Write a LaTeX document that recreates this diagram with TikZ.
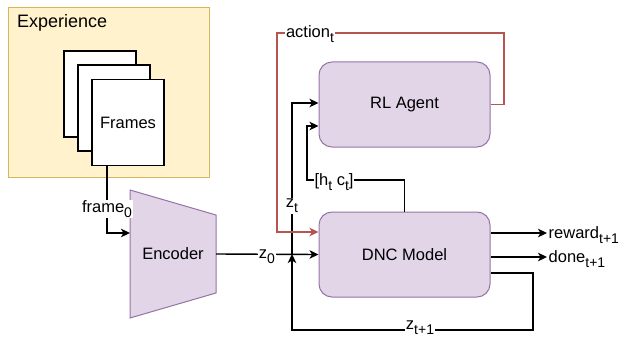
\documentclass[tikz,border=0pt]{standalone}
\usepackage{fontspec}
\setmainfont{Liberation Sans}
\usetikzlibrary{arrows.meta,calc}
\definecolor{expfill}{HTML}{FFF2CC}
\definecolor{expdraw}{HTML}{D6B656}
\definecolor{pfill}{HTML}{E1D5E7}
\definecolor{pdraw}{HTML}{9673A6}
\definecolor{rline}{HTML}{B85450}
\newcommand{\sbs}[1]{\raisebox{-0.55ex}{\fontsize{14}{14}\selectfont #1}}
\begin{document}
\begin{tikzpicture}[x=1pt,y=-1pt,line width=1.4pt,
  >={Stealth[length=9pt,width=8.5pt,inset=2.5pt]},
  font=\fontsize{16.5}{20}\selectfont,
  expbox/.style={draw=expdraw,fill=expfill,line width=1pt,minimum width=201pt,minimum height=169pt,inner sep=0pt},
  page/.style={draw=black,fill=white,line width=1.4pt,minimum width=72pt,minimum height=86pt,inner sep=0pt},
  procbox/.style={draw=pdraw,fill=pfill,line width=1pt,rounded corners=13pt,minimum width=171pt,minimum height=85pt},
  lbl/.style={fill=white,inner sep=1pt},
  redline/.style={draw=rline}]
\useasboundingbox (0,0) rectangle (627,337);
% Experience
\node[expbox] (exp) at (108.5,92.5) {};
\node[anchor=west,font=\fontsize{18}{22}\selectfont] (exptxt) at (13,23) {Experience};
\node[page] (p1) at (100,94) {};
\node[page] (p2) at (114,108) {};
\node[page] (frames) at (128,122.5) {Frames};
% Encoder
\draw[draw=pdraw,fill=pfill,line width=1pt] (130,190) -- (216,215) -- (216,293) -- (130,318) -- cycle;
\node (enc) at (173,254) {Encoder};
\coordinate (encR) at (216,254);
\coordinate (encL) at (130,233);
\coordinate (frmout) at (107,165);
% Boxes
\node[procbox] (agent) at (404.5,104.5) {RL Agent};
\node[procbox] (dnc) at (404.5,254.5) {DNC Model};
% frame_0
\draw[->] (frmout) |- (encL);
\node[lbl] (frm0) at (107,209) {frame\sbs{0}};
% z0
\draw[->] (encR) -- (dnc.west);
\node[lbl] (z0) at (267,257) {z\sbs{0}};
% z_t
\coordinate (jz) at (292,254);
\draw[->] (jz) |- ($(agent.west)+(0,-1.5)$);
\node[lbl] (zt) at (292,206) {z\sbs{t}};
% h c
\coordinate (hcc) at (307,180);
\draw[->] (dnc.north) |- (hcc) |- ($(agent.west)+(0,21.5)$);
\node[lbl] (hc) at (334,182) {[h\sbs{t} c\sbs{t}]};
% action
\coordinate (ar) at (504,33);
\coordinate (al) at (277,33);
\draw[redline,->] (agent.east) -| (ar) -- (al) |- ($(dnc.west)+(0,-22.5)$);
\node[lbl] (act) at (310,34) {action\sbs{t}};
% outputs
\coordinate (rw) at (547,233);
\coordinate (dn) at (547,257);
\draw[->] ($(dnc.east)+(0,-21.5)$) -- (rw);
\draw[->] ($(dnc.east)+(0,2.5)$) -- (dn);
\node[anchor=west,inner sep=1pt] (rwt) at ($(rw)+(0,2)$) {reward\sbs{t+1}};
\node[anchor=west,inner sep=1pt] (dnt) at ($(dn)+(0,2)$) {done\sbs{t+1}};
% z_{t+1} loop
\coordinate (lr) at (533,330);
\coordinate (ll) at (292,330);
\draw[->] ($(dnc.east)+(0,18.5)$) -| (lr) -- (ll) -- (jz);
\node[lbl] (ztp) at (420,328) {z\sbs{t+1}};
\end{tikzpicture}
\end{document}
